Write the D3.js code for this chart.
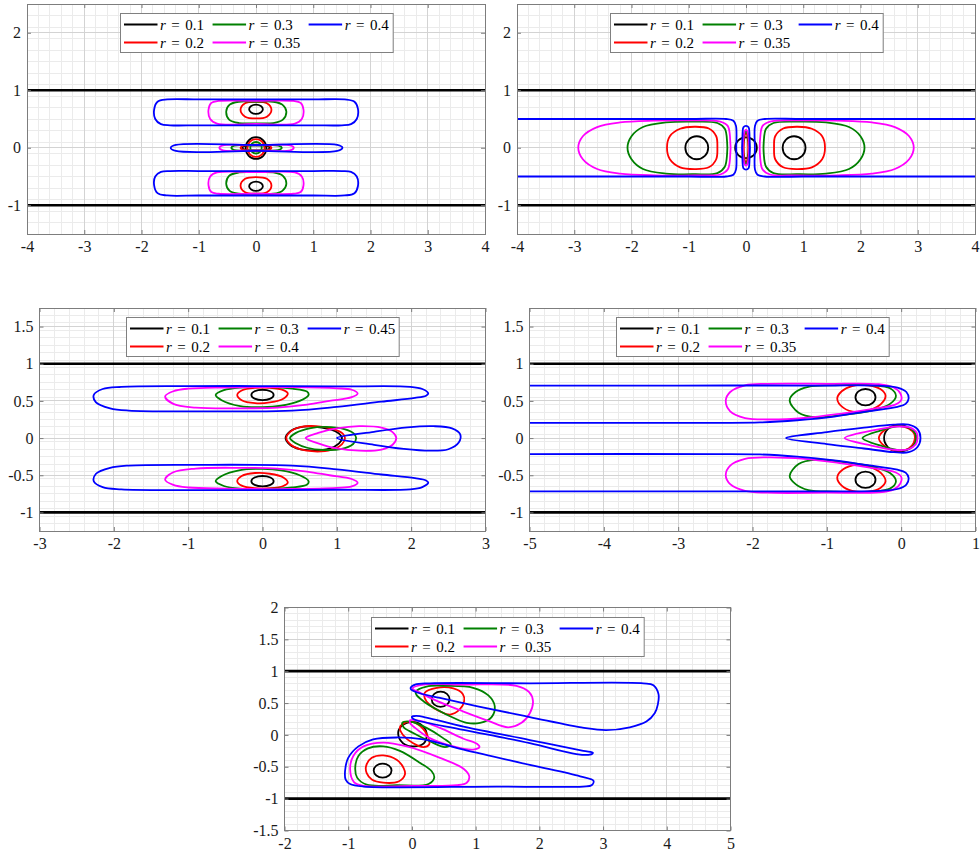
<!DOCTYPE html>
<html>
<head>
<meta charset="utf-8">
<script src="https://cdn.jsdelivr.net/npm/d3@7"></script>
<style>
  body { margin: 0; background: #fff; }
  svg { display: block; }
  text { font-family: "Liberation Serif", "DejaVu Serif", serif; }
</style>
</head>
<body>
<svg id="chart" width="980" height="857"></svg>
<script>
// series colours, index = r value order in legend
const colors = ["#000000", "#ff0000", "#008000", "#ff00ff", "#0000ff"];
const rLabelsA = ["0.1", "0.2", "0.3", "0.35", "0.4"];
const rLabelsB = ["0.1", "0.2", "0.3", "0.4", "0.45"];
const walls = [-1, 1];

// tick labels
const ticksX1 = [-4, -3, -2, -1, 0, 1, 2, 3, 4];
const ticksY1 = [-1, 0, 1, 2];
const ticksX3 = [-3, -2, -1, 0, 1, 2, 3];
const ticksY3 = [-1, -0.5, 0, 0.5, 1, 1.5];
const ticksX4 = [-5, -4, -3, -2, -1, 0, 1];
const ticksX5 = [-2, -1, 0, 1, 2, 3, 4, 5];
const ticksY5 = [-1.5, -1, -0.5, 0, 0.5, 1, 1.5, 2];

// ---- panel 1 (top left) : s = series index, pts = [x, y]
const p1Curves = [
  // upper vortex row
  { s: 1, pts: [[0, 0.80], [0.19, 0.775], [0.27, 0.66], [0.19, 0.54], [0, 0.51], [-0.19, 0.54], [-0.27, 0.66], [-0.19, 0.775]] },
  { s: 2, pts: [[-0.3, 0.80], [0, 0.80], [0.3, 0.80], [0.46, 0.75], [0.53, 0.63], [0.47, 0.49], [0.3, 0.43], [0, 0.425], [-0.3, 0.43], [-0.47, 0.49], [-0.52, 0.63], [-0.46, 0.75]] },
  { s: 3, pts: [[-0.65, 0.815], [0, 0.815], [0.65, 0.815], [0.78, 0.78], [0.83, 0.66], [0.8, 0.5], [0.68, 0.42], [0, 0.415], [-0.68, 0.42], [-0.8, 0.5], [-0.83, 0.66], [-0.78, 0.78]] },
  { s: 4, pts: [[-1.55, 0.84], [-1.0, 0.84], [0, 0.84], [1.0, 0.84], [1.55, 0.84], [1.72, 0.80], [1.78, 0.68], [1.76, 0.50], [1.66, 0.41], [1.5, 0.39], [1.0, 0.39], [0, 0.39], [-1.0, 0.39], [-1.5, 0.39], [-1.66, 0.41], [-1.76, 0.50], [-1.78, 0.66], [-1.72, 0.80]] },
  // lower vortex row
  { s: 1, pts: [[0, -0.80], [0.19, -0.775], [0.27, -0.66], [0.19, -0.54], [0, -0.51], [-0.19, -0.54], [-0.27, -0.66], [-0.19, -0.775]] },
  { s: 2, pts: [[-0.3, -0.80], [0, -0.80], [0.3, -0.80], [0.46, -0.75], [0.53, -0.63], [0.47, -0.49], [0.3, -0.43], [0, -0.425], [-0.3, -0.43], [-0.47, -0.49], [-0.52, -0.63], [-0.46, -0.75]] },
  { s: 3, pts: [[-0.65, -0.80], [0, -0.80], [0.65, -0.80], [0.78, -0.77], [0.83, -0.65], [0.8, -0.5], [0.68, -0.43], [0, -0.425], [-0.68, -0.43], [-0.8, -0.5], [-0.83, -0.65], [-0.78, -0.77]] },
  { s: 4, pts: [[-1.55, -0.83], [-1.0, -0.83], [0, -0.83], [1.0, -0.83], [1.55, -0.83], [1.72, -0.79], [1.78, -0.67], [1.76, -0.50], [1.66, -0.42], [1.5, -0.405], [1.0, -0.405], [0, -0.405], [-1.0, -0.405], [-1.5, -0.405], [-1.66, -0.42], [-1.76, -0.50], [-1.78, -0.65], [-1.72, -0.79]] },
  // centre row
  { s: 0, pts: [[-0.2, 0.03], [0.2, 0.03], [0.24, 0], [0.2, -0.033], [-0.2, -0.033], [-0.24, 0]] },
  { s: 1, pts: [[-0.22, 0.035], [0.22, 0.035], [0.27, 0], [0.22, -0.037], [-0.22, -0.037], [-0.27, 0]] },
  { s: 2, pts: [[-0.38, 0.038], [0, 0.038], [0.39, 0.038], [0.45, 0], [0.39, -0.04], [0, -0.04], [-0.38, -0.04], [-0.43, 0]] },
  { s: 3, pts: [[-0.58, 0.042], [0, 0.042], [0.6, 0.042], [0.66, 0], [0.6, -0.045], [0, -0.045], [-0.58, -0.045], [-0.64, 0]] },
  { s: 4, pts: [[-1.40, 0.048], [0, 0.048], [1.42, 0.048], [1.51, 0], [1.42, -0.055], [0, -0.055], [-1.40, -0.055], [-1.49, -0.003]] }
];
// [s, cx, cy, rx, ry]
const p1Ellipses = [
  [0, 0, 0.67, 0.12, 0.08],
  [0, 0, -0.67, 0.12, 0.08],
  [0, 0, -0.005, 0.18, 0.19],
  [1, 0, -0.005, 0.15, 0.155],
  [2, 0, 0, 0.10, 0.10]
];

// ---- panel 2 (top right)
const p2Curves = [
  { s: 1, pts: [[-1.38, 0], [-1.33, 0.2], [-1.15, 0.33], [-0.9, 0.365], [-0.65, 0.335], [-0.52, 0.2], [-0.5, 0], [-0.52, -0.2], [-0.65, -0.34], [-0.9, -0.37], [-1.15, -0.34], [-1.33, -0.2]] },
  { s: 1, pts: [[1.38, 0], [1.33, 0.2], [1.15, 0.33], [0.9, 0.365], [0.65, 0.335], [0.51, 0.2], [0.49, 0], [0.51, -0.2], [0.65, -0.34], [0.9, -0.37], [1.15, -0.34], [1.33, -0.2]] },
  { s: 2, pts: [[-2.07, 0], [-2.0, 0.2], [-1.8, 0.36], [-1.4, 0.44], [-0.9, 0.455], [-0.5, 0.43], [-0.37, 0.33], [-0.33, 0.1], [-0.33, -0.1], [-0.37, -0.33], [-0.5, -0.44], [-0.9, -0.46], [-1.4, -0.45], [-1.8, -0.37], [-2.0, -0.2]] },
  { s: 2, pts: [[2.07, 0], [2.0, 0.2], [1.8, 0.36], [1.4, 0.44], [0.9, 0.455], [0.48, 0.43], [0.35, 0.33], [0.31, 0.1], [0.31, -0.1], [0.35, -0.33], [0.48, -0.44], [0.9, -0.46], [1.4, -0.45], [1.8, -0.37], [2.0, -0.2]] },
  { s: 3, pts: [[-2.93, 0], [-2.85, 0.2], [-2.6, 0.36], [-2.2, 0.44], [-1.6, 0.47], [-0.9, 0.475], [-0.45, 0.455], [-0.32, 0.38], [-0.28, 0.2], [-0.28, -0.2], [-0.32, -0.38], [-0.45, -0.465], [-0.9, -0.48], [-1.6, -0.48], [-2.2, -0.45], [-2.6, -0.37], [-2.85, -0.2]] },
  { s: 3, pts: [[2.93, 0], [2.85, 0.2], [2.6, 0.36], [2.2, 0.44], [1.6, 0.47], [0.9, 0.475], [0.42, 0.455], [0.29, 0.38], [0.25, 0.2], [0.25, -0.2], [0.29, -0.38], [0.42, -0.465], [0.9, -0.48], [1.6, -0.48], [2.2, -0.45], [2.6, -0.37], [2.85, -0.2]] },
  { s: 4, open: true, pts: [[-4, 0.5], [-1, 0.5], [-0.35, 0.5], [-0.22, 0.47], [-0.175, 0.38], [-0.17, 0], [-0.175, -0.38], [-0.22, -0.47], [-0.35, -0.5], [-1, -0.5], [-4, -0.5]] },
  { s: 4, open: true, pts: [[4, 0.5], [1, 0.5], [0.33, 0.5], [0.2, 0.47], [0.157, 0.38], [0.155, 0], [0.157, -0.38], [0.2, -0.47], [0.33, -0.5], [1, -0.5], [4, -0.5]] },
  { s: 4, pts: [[0, 0.38], [0.045, 0.355], [0.06, 0.25], [0.06, -0.25], [0.045, -0.355], [0, -0.38], [-0.045, -0.355], [-0.06, -0.25], [-0.06, 0.25], [-0.045, 0.355]] }
];
const p2Ellipses = [
  [0, -0.86, 0, 0.2, 0.2],
  [0, 0.84, 0, 0.2, 0.2],
  [0, 0, 0, 0.19, 0.18],
  [1, 0, 0, 0.04, 0.25],
  [2, 0, 0, 0.05, 0.28],
  [3, 0, 0, 0.055, 0.31]
];

// ---- panel 3 (middle left)
const p3Curves = [
  // upper
  { s: 1, pts: [[-0.34, 0.58], [-0.28, 0.64], [-0.1, 0.675], [0.1, 0.675], [0.28, 0.645], [0.34, 0.60], [0.28, 0.53], [0.1, 0.48], [-0.1, 0.47], [-0.28, 0.51]] },
  { s: 2, pts: [[-0.63, 0.58], [-0.52, 0.645], [-0.3, 0.68], [0.05, 0.685], [0.4, 0.665], [0.6, 0.625], [0.62, 0.58], [0.5, 0.50], [0.25, 0.435], [0, 0.415], [-0.3, 0.43], [-0.55, 0.51]] },
  { s: 3, pts: [[-1.31, 0.56], [-1.2, 0.63], [-1.0, 0.665], [-0.5, 0.68], [0.4, 0.685], [1.0, 0.67], [1.2, 0.65], [1.28, 0.60], [1.2, 0.55], [0.9, 0.50], [0.6, 0.45], [0.2, 0.41], [-0.3, 0.40], [-0.9, 0.41], [-1.2, 0.46]] },
  { s: 4, pts: [[2.23, 0.60], [2.15, 0.66], [1.99, 0.69], [1.0, 0.695], [0, 0.70], [-1, 0.70], [-1.9, 0.69], [-2.15, 0.66], [-2.27, 0.58], [-2.24, 0.48], [-2.05, 0.40], [-1.8, 0.37], [-0.9, 0.36], [0.4, 0.37], [1.0, 0.42], [1.6, 0.49], [2.05, 0.54], [2.2, 0.57]] },
  // lower
  { s: 1, pts: [[-0.34, -0.58], [-0.28, -0.64], [-0.1, -0.675], [0.1, -0.675], [0.28, -0.645], [0.34, -0.60], [0.28, -0.53], [0.1, -0.48], [-0.1, -0.47], [-0.28, -0.51]] },
  { s: 2, pts: [[-0.63, -0.58], [-0.52, -0.645], [-0.3, -0.68], [0.05, -0.685], [0.4, -0.665], [0.6, -0.625], [0.62, -0.58], [0.5, -0.50], [0.25, -0.435], [0, -0.415], [-0.3, -0.43], [-0.55, -0.51]] },
  { s: 3, pts: [[-1.31, -0.56], [-1.2, -0.63], [-1.0, -0.665], [-0.5, -0.68], [0.4, -0.685], [1.0, -0.67], [1.2, -0.65], [1.28, -0.60], [1.2, -0.55], [0.9, -0.50], [0.6, -0.45], [0.2, -0.41], [-0.3, -0.40], [-0.9, -0.41], [-1.2, -0.46]] },
  { s: 4, pts: [[2.23, -0.60], [2.15, -0.66], [1.99, -0.69], [1.0, -0.695], [0, -0.70], [-1, -0.70], [-1.9, -0.69], [-2.15, -0.66], [-2.27, -0.58], [-2.24, -0.48], [-2.05, -0.40], [-1.8, -0.37], [-0.9, -0.36], [0.4, -0.37], [1.0, -0.42], [1.6, -0.49], [2.05, -0.54], [2.2, -0.57]] },
  // centre
  { s: 0, pts: [[0.31, 0], [0.37, 0.09], [0.5, 0.145], [0.68, 0.155], [0.9, 0.12], [1.03, 0.06], [1.07, 0], [1.03, -0.07], [0.9, -0.14], [0.68, -0.165], [0.5, -0.15], [0.37, -0.09]] },
  { s: 1, pts: [[0.32, 0], [0.38, 0.09], [0.52, 0.15], [0.72, 0.16], [0.95, 0.12], [1.08, 0.06], [1.11, 0], [1.07, -0.08], [0.92, -0.16], [0.7, -0.18], [0.5, -0.15], [0.38, -0.09]] },
  { s: 2, pts: [[0.37, 0], [0.45, 0.07], [0.65, 0.135], [0.85, 0.15], [1.1, 0.12], [1.23, 0.06], [1.26, 0], [1.22, -0.08], [1.05, -0.15], [0.82, -0.16], [0.6, -0.13], [0.45, -0.07]] },
  { s: 3, pts: [[0.58, 0], [0.75, 0.07], [1.0, 0.13], [1.3, 0.16], [1.6, 0.14], [1.75, 0.08], [1.80, 0], [1.75, -0.09], [1.6, -0.155], [1.3, -0.17], [1.0, -0.14], [0.75, -0.07]] },
  { s: 4, pts: [[1.0, 0], [1.5, 0.085], [1.95, 0.145], [2.3, 0.16], [2.55, 0.13], [2.66, 0.05], [2.64, -0.06], [2.5, -0.15], [2.25, -0.17], [1.9, -0.145], [1.5, -0.09]] }
];
const p3Ellipses = [
  [0, 0.0, 0.58, 0.15, 0.07],
  [0, 0.0, -0.58, 0.15, 0.07]
];

// ---- panel 4 (middle right)
const p4Curves = [
  // upper
  { s: 1, pts: [[-0.86, 0.53], [-0.8, 0.63], [-0.66, 0.70], [-0.45, 0.71], [-0.28, 0.66], [-0.21, 0.57], [-0.27, 0.46], [-0.42, 0.38], [-0.6, 0.35], [-0.78, 0.41]] },
  { s: 2, pts: [[-1.50, 0.51], [-1.42, 0.62], [-1.25, 0.69], [-0.9, 0.71], [-0.4, 0.71], [-0.15, 0.67], [-0.07, 0.57], [-0.15, 0.46], [-0.4, 0.37], [-0.8, 0.31], [-1.15, 0.28], [-1.38, 0.34]] },
  { s: 3, pts: [[-2.36, 0.50], [-2.3, 0.62], [-2.1, 0.71], [-1.8, 0.73], [-1, 0.73], [-0.3, 0.725], [-0.1, 0.68], [-0.01, 0.6], [0, 0.51], [-0.08, 0.45], [-0.4, 0.39], [-0.8, 0.33], [-1.3, 0.27], [-1.8, 0.25], [-2.1, 0.27], [-2.3, 0.36]] },
  { s: 4, open: true, pts: [[-5, 0.707], [-3, 0.707], [-1, 0.707], [-0.3, 0.705], [-0.05, 0.68], [0.07, 0.62], [0.10, 0.53], [0.06, 0.46], [-0.05, 0.42], [-0.45, 0.36], [-0.9, 0.29], [-1.4, 0.24], [-1.9, 0.21], [-2.5, 0.205], [-5, 0.205]] },
  // lower
  { s: 1, pts: [[-0.86, -0.53], [-0.8, -0.64], [-0.66, -0.71], [-0.45, -0.72], [-0.28, -0.67], [-0.21, -0.58], [-0.27, -0.47], [-0.42, -0.39], [-0.6, -0.36], [-0.78, -0.42]] },
  { s: 2, pts: [[-1.50, -0.51], [-1.42, -0.62], [-1.25, -0.70], [-0.9, -0.72], [-0.4, -0.72], [-0.15, -0.68], [-0.07, -0.58], [-0.15, -0.47], [-0.4, -0.38], [-0.8, -0.32], [-1.15, -0.29], [-1.38, -0.35]] },
  { s: 3, pts: [[-2.36, -0.50], [-2.3, -0.62], [-2.1, -0.71], [-1.8, -0.735], [-1, -0.735], [-0.3, -0.73], [-0.1, -0.69], [-0.01, -0.61], [0, -0.52], [-0.08, -0.46], [-0.4, -0.40], [-0.8, -0.34], [-1.3, -0.28], [-1.8, -0.26], [-2.1, -0.28], [-2.3, -0.37]] },
  { s: 4, open: true, pts: [[-5, -0.716], [-3, -0.716], [-1, -0.716], [-0.3, -0.71], [-0.05, -0.685], [0.07, -0.625], [0.10, -0.535], [0.06, -0.465], [-0.05, -0.425], [-0.45, -0.365], [-0.9, -0.30], [-1.4, -0.25], [-1.9, -0.22], [-2.5, -0.215], [-5, -0.215]] },
  // centre
  { s: 0, pts: [[-0.23, 0], [-0.18, 0.12], [-0.05, 0.175], [0.1, 0.14], [0.19, 0.05], [0.18, -0.07], [0.1, -0.15], [-0.05, -0.18], [-0.18, -0.12]] },
  { s: 1, pts: [[-0.30, 0], [-0.22, 0.11], [-0.05, 0.165], [0.1, 0.13], [0.18, 0.05], [0.17, -0.06], [0.1, -0.14], [-0.05, -0.17], [-0.22, -0.11]] },
  { s: 2, pts: [[-0.52, 0], [-0.25, 0.11], [-0.02, 0.16], [0.12, 0.13], [0.19, 0.06], [0.19, -0.06], [0.12, -0.14], [-0.02, -0.165], [-0.25, -0.11]] },
  { s: 3, pts: [[-0.76, 0], [-0.4, 0.10], [-0.05, 0.155], [0.12, 0.14], [0.21, 0.07], [0.22, 0], [0.2, -0.08], [0.1, -0.15], [-0.05, -0.16], [-0.4, -0.10]] },
  { s: 4, pts: [[-1.55, 0], [-1.0, 0.08], [-0.5, 0.14], [-0.1, 0.18], [0.1, 0.18], [0.22, 0.12], [0.26, 0], [0.22, -0.12], [0.1, -0.19], [-0.1, -0.19], [-0.5, -0.14], [-1.0, -0.08]] }
];
const p4Ellipses = [
  [0, -0.48, 0.55, 0.135, 0.11],
  [0, -0.48, -0.56, 0.135, 0.11]
];

// ---- panel 5 (bottom)
const p5Curves = [
  // upper right vortex
  { s: 1, pts: [[0.20, 0.66], [0.39, 0.74], [0.65, 0.73], [0.80, 0.64], [0.82, 0.53], [0.75, 0.40], [0.60, 0.32], [0.44, 0.37], [0.28, 0.47], [0.20, 0.58]] },
  { s: 2, pts: [[0.06, 0.68], [0.23, 0.76], [0.54, 0.77], [0.96, 0.74], [1.20, 0.62], [1.30, 0.45], [1.25, 0.28], [1.07, 0.19], [0.86, 0.19], [0.65, 0.27], [0.39, 0.40], [0.18, 0.53], [0.07, 0.63]] },
  { s: 3, pts: [[0.01, 0.73], [0.18, 0.79], [0.81, 0.79], [1.64, 0.77], [1.84, 0.67], [1.90, 0.53], [1.85, 0.34], [1.72, 0.19], [1.51, 0.12], [1.2, 0.22], [0.8, 0.37], [0.4, 0.53], [0.13, 0.66]] },
  { s: 4, pts: [[-0.02, 0.74], [0.05, 0.79], [0.28, 0.81], [1.85, 0.81], [3.63, 0.81], [3.79, 0.78], [3.87, 0.64], [3.86, 0.48], [3.81, 0.34], [3.68, 0.21], [3.42, 0.12], [3.05, 0.075], [2.7, 0.11], [1.85, 0.28], [1.07, 0.44], [0.44, 0.58], [0.07, 0.67], [-0.01, 0.71]] },
  // centre vortex
  { s: 0, pts: [[-0.19, 0.11], [-0.03, 0.20], [0.13, 0.17], [0.23, 0.03], [0.19, -0.13], [0.05, -0.18], [-0.11, -0.15], [-0.21, -0.02]] },
  { s: 1, pts: [[-0.16, 0.16], [-0.03, 0.21], [0.13, 0.14], [0.26, -0.05], [0.27, -0.15], [0.18, -0.19], [0.02, -0.13], [-0.14, 0.0], [-0.19, 0.11]] },
  { s: 2, pts: [[-0.15, 0.19], [-0.03, 0.21], [0.23, 0.11], [0.49, -0.05], [0.61, -0.15], [0.52, -0.19], [0.28, -0.10], [0.02, 0.03], [-0.13, 0.12]] },
  { s: 3, pts: [[-0.03, 0.23], [0.13, 0.22], [0.44, 0.11], [0.81, -0.06], [1.02, -0.14], [1.06, -0.19], [0.96, -0.23], [0.65, -0.18], [0.28, -0.05], [0.05, 0.11], [-0.03, 0.19]] },
  { s: 4, pts: [[0.0, 0.285], [0.07, 0.30], [0.81, 0.13], [1.85, -0.08], [2.69, -0.25], [2.84, -0.28], [2.79, -0.31], [2.58, -0.30], [1.85, -0.13], [0.81, 0.08], [0.07, 0.23], [0.01, 0.26]] },
  // lower left vortex
  { s: 1, pts: [[-0.72, -0.49], [-0.63, -0.36], [-0.45, -0.32], [-0.24, -0.39], [-0.13, -0.52], [-0.11, -0.62], [-0.21, -0.73], [-0.45, -0.75], [-0.63, -0.70], [-0.71, -0.60]] },
  { s: 2, pts: [[-0.89, -0.52], [-0.84, -0.33], [-0.69, -0.21], [-0.45, -0.18], [-0.19, -0.25], [0.13, -0.44], [0.31, -0.57], [0.35, -0.67], [0.26, -0.77], [-0.24, -0.79], [-0.71, -0.78], [-0.86, -0.67]] },
  { s: 3, pts: [[-0.97, -0.54], [-0.92, -0.33], [-0.76, -0.18], [-0.45, -0.12], [-0.08, -0.18], [0.44, -0.36], [0.81, -0.53], [0.90, -0.65], [0.86, -0.75], [0.70, -0.79], [0.02, -0.80], [-0.76, -0.80], [-0.91, -0.74]] },
  { s: 4, pts: [[-1.05, -0.57], [-1.00, -0.36], [-0.84, -0.18], [-0.61, -0.07], [-0.24, -0.04], [0.18, -0.07], [0.81, -0.23], [1.85, -0.47], [2.64, -0.65], [2.85, -0.72], [2.82, -0.79], [2.69, -0.81], [1.33, -0.81], [-0.76, -0.81], [-0.97, -0.77], [-1.04, -0.70]] }
];
const p5Ellipses = [
  [0, 0.45, 0.56, 0.14, 0.12],
  [0, -0.46, -0.56, 0.14, 0.11]
];

const panels = [
  { id: 1, left: 27, top: 4, width: 458, height: 230, xDom: [-4, 4], yDom: [-1.5, 2.5], xTicks: ticksX1, yTicks: ticksY1, yMinor: 0.2, labels: rLabelsA, curves: p1Curves, ellipses: p1Ellipses },
  { id: 2, left: 517, top: 4, width: 458, height: 230, xDom: [-4, 4], yDom: [-1.5, 2.5], xTicks: ticksX1, yTicks: ticksY1, yMinor: 0.2, labels: rLabelsA, curves: p2Curves, ellipses: p2Ellipses },
  { id: 3, left: 39.5, top: 308, width: 446, height: 223, xDom: [-3, 3], yDom: [-1.25, 1.75], xTicks: ticksX3, yTicks: ticksY3, yMinor: 0.1, labels: rLabelsB, curves: p3Curves, ellipses: p3Ellipses },
  { id: 4, left: 529.5, top: 308, width: 446, height: 223, xDom: [-5, 1], yDom: [-1.25, 1.75], xTicks: ticksX4, yTicks: ticksY3, yMinor: 0.1, labels: rLabelsA, curves: p4Curves, ellipses: p4Ellipses },
  { id: 5, left: 284.5, top: 607.5, width: 446, height: 223, xDom: [-2, 5], yDom: [-1.5, 2], xTicks: ticksX5, yTicks: ticksY5, yMinor: 0.1, labels: rLabelsA, curves: p5Curves, ellipses: p5Ellipses }
];

const svg = d3.select("#chart");
const frameColor = "#7d7d7d";
const lineW = 1.8;

panels.forEach(p => drawPanel(p));

function drawPanel(p) {
  const x = d3.scaleLinear().domain(p.xDom).range([p.left, p.left + p.width]);
  const y = d3.scaleLinear().domain(p.yDom).range([p.top + p.height, p.top]);
  const g = svg.append("g");

  g.append("clipPath").attr("id", "clip" + p.id)
    .append("rect").attr("x", p.left).attr("y", p.top).attr("width", p.width).attr("height", p.height);

  // grid
  const xMinor = d3.range(p.xDom[0], p.xDom[1] + 1e-9, 0.2);
  const yMinor = d3.range(p.yDom[0], p.yDom[1] + 1e-9, p.yMinor);
  const grid = g.append("g").attr("shape-rendering", "crispEdges");
  grid.selectAll(".mx").data(xMinor).join("line")
    .attr("x1", d => x(d)).attr("x2", d => x(d)).attr("y1", p.top).attr("y2", p.top + p.height)
    .attr("stroke", "#ebebeb");
  grid.selectAll(".my").data(yMinor).join("line")
    .attr("y1", d => y(d)).attr("y2", d => y(d)).attr("x1", p.left).attr("x2", p.left + p.width)
    .attr("stroke", "#ebebeb");
  grid.selectAll(".gx").data(p.xTicks).join("line")
    .attr("x1", d => x(d)).attr("x2", d => x(d)).attr("y1", p.top).attr("y2", p.top + p.height)
    .attr("stroke", "#d3d3d3");
  grid.selectAll(".gy").data(p.yTicks).join("line")
    .attr("y1", d => y(d)).attr("y2", d => y(d)).attr("x1", p.left).attr("x2", p.left + p.width)
    .attr("stroke", "#d3d3d3");

  // streamlines
  const plot = g.append("g").attr("clip-path", `url(#clip${p.id})`);
  const lineOpen = d3.line().x(d => x(d[0])).y(d => y(d[1])).curve(d3.curveCatmullRom.alpha(0.5));
  const lineClosed = d3.line().x(d => x(d[0])).y(d => y(d[1])).curve(d3.curveCatmullRomClosed.alpha(0.5));

  colors.forEach((c, s) => {
    plot.selectAll(null).data(p.curves.filter(d => d.s === s)).join("path")
      .attr("d", d => (d.open ? lineOpen : lineClosed)(d.pts))
      .attr("fill", "none").attr("stroke", c).attr("stroke-width", lineW)
      .attr("stroke-linejoin", "round");
    plot.selectAll(null).data(p.ellipses.filter(d => d[0] === s)).join("ellipse")
      .attr("cx", d => x(d[1])).attr("cy", d => y(d[2]))
      .attr("rx", d => x(d[1] + d[3]) - x(d[1]))
      .attr("ry", d => y(d[2]) - y(d[2] + d[4]))
      .attr("fill", "none").attr("stroke", c).attr("stroke-width", lineW);
  });

  // channel walls
  plot.selectAll(null).data(walls).join("line")
    .attr("x1", x(p.xDom[0])).attr("x2", x(p.xDom[1]))
    .attr("y1", d => y(d)).attr("y2", d => y(d))
    .attr("stroke", "#000").attr("stroke-width", 2.7);

  // axes (ticks inward on all four sides)
  const fmt = d => String(d);
  const axB = g.append("g").attr("transform", `translate(0,${p.top + p.height})`)
    .call(d3.axisBottom(x).tickValues(p.xTicks).tickSizeInner(-4).tickSizeOuter(0).tickPadding(7).tickFormat(fmt));
  const axL = g.append("g").attr("transform", `translate(${p.left},0)`)
    .call(d3.axisLeft(y).tickValues(p.yTicks).tickSizeInner(-4).tickSizeOuter(0).tickPadding(6).tickFormat(fmt));
  const axT = g.append("g").attr("transform", `translate(0,${p.top})`)
    .call(d3.axisTop(x).tickValues(p.xTicks).tickSizeInner(-4).tickSizeOuter(0).tickFormat(""));
  const axR = g.append("g").attr("transform", `translate(${p.left + p.width},0)`)
    .call(d3.axisRight(y).tickValues(p.yTicks).tickSizeInner(-4).tickSizeOuter(0).tickFormat(""));
  [axB, axL, axT, axR].forEach(a => {
    a.attr("font-family", null);
    a.select(".domain").remove();
    a.selectAll(".tick line").attr("stroke", frameColor);
    a.selectAll("text").attr("fill", "#1a1a1a").style("font-size", "16px")
      .style("font-family", "'Liberation Serif', serif");
  });

  g.append("rect")
    .attr("x", p.left).attr("y", p.top).attr("width", p.width).attr("height", p.height)
    .attr("fill", "none").attr("stroke", frameColor).attr("stroke-width", 1)
    .attr("shape-rendering", "crispEdges");

  drawLegend(g, p);
}

function drawLegend(g, p) {
  const lg = g.append("g");
  const box = lg.append("rect");
  const columns = [[0, 1], [2, 3], [4]];
  const rowY = [11, 29];
  let cx = 0;
  columns.forEach(col => {
    let maxW = 0;
    col.forEach((i, row) => {
      lg.append("line")
        .attr("x1", cx + 3.5).attr("x2", cx + 37)
        .attr("y1", rowY[row]).attr("y2", rowY[row])
        .attr("stroke", colors[i]).attr("stroke-width", lineW);
      const t = lg.append("text")
        .attr("x", cx + 39.5).attr("y", rowY[row]).attr("dy", "0.34em")
        .style("font-size", "15px").attr("fill", "#000");
      t.append("tspan").style("font-style", "italic").text("r");
      t.append("tspan").attr("dx", 5.5).text("=");
      t.append("tspan").attr("dx", 5.5).text(p.labels[i]);
      maxW = Math.max(maxW, t.node().getBBox().width);
    });
    cx += 39.5 + maxW + 5;
  });
  const w = cx - 1;
  box.attr("width", w).attr("height", 39)
    .attr("fill", "#fff").attr("stroke", "#808080").attr("stroke-width", 1);
  lg.attr("transform", `translate(${Math.round(p.left + p.width / 2 - w / 2) + 0.5},${Math.round(p.top + 9) + 0.5})`);
}
</script>
</body>
</html>
